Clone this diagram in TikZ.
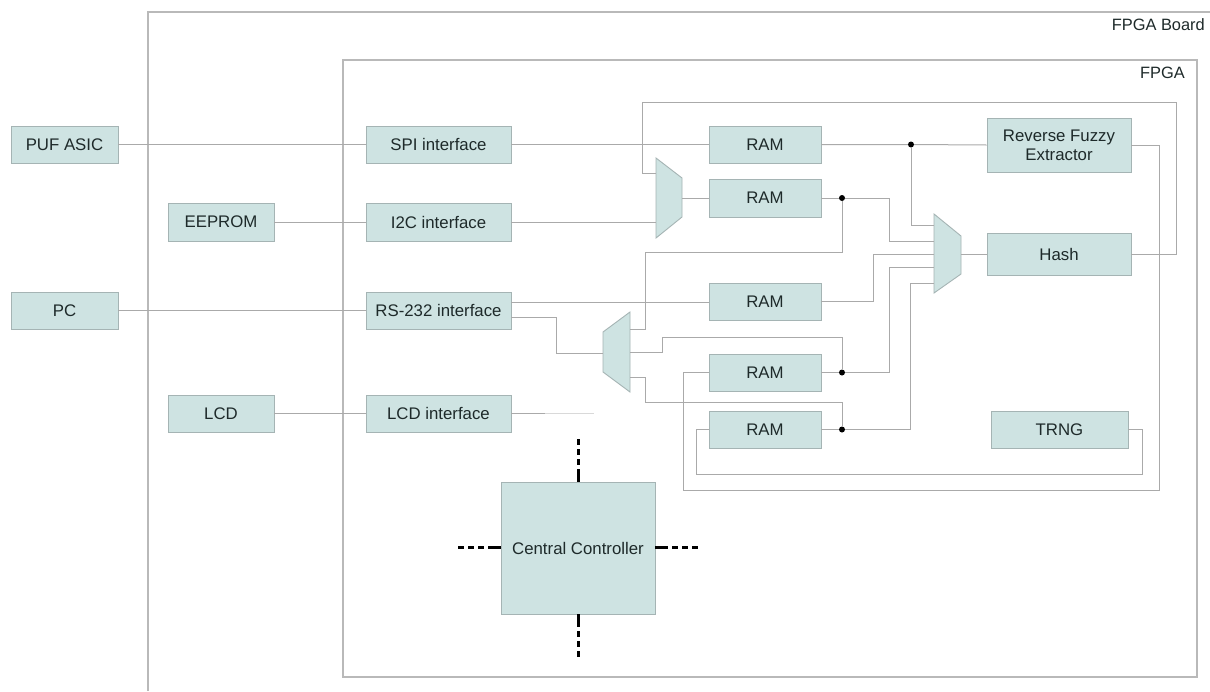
\documentclass[tikz,border=0pt]{standalone}
\usepackage{fontspec}
\setmainfont{Liberation Sans}
\usetikzlibrary{calc}
\definecolor{boxfill}{RGB}{206,227,226}
\definecolor{boxline}{RGB}{165,180,180}
\definecolor{wirec}{RGB}{170,170,170}
\definecolor{framec}{RGB}{185,185,185}
\definecolor{txt}{RGB}{30,42,42}
\tikzset{
  box/.style={draw=boxline, fill=boxfill, line width=0.9pt, text=txt,
    font=\fontsize{16.8}{19}\selectfont, inner sep=0pt, align=center},
  wire/.style={draw=wirec, line width=1pt},
  frame/.style={draw=framec, line width=1.1pt},
  mux/.style={draw=boxline, fill=boxfill, line width=0.9pt},
  junction/.style={circle, fill=black, inner sep=0pt, minimum size=6pt},
  ctl/.style={draw=black, line width=3pt,
    dash pattern=on 13pt off 4pt on 6pt off 4pt on 6pt off 4pt on 6pt off 10pt},
  lbl/.style={text=txt, font=\fontsize{16.4}{18}\selectfont, inner sep=0pt}
}
\begin{document}
\begin{tikzpicture}[x=1pt,y=-1pt]
\useasboundingbox (0,0) rectangle (1210,691);
\fill[white] (0,0) rectangle (1210,691);

% frames
\draw[frame] (148,691) -- (148,12) -- (1210,12);
\node[lbl, anchor=east] (boardlbl) at (1205,25) {FPGA Board};
\draw[frame] (343,60) rectangle (1197,677);
\node[lbl, anchor=east] (fpgalbl) at (1185,73) {FPGA};

% boxes
\node[box, minimum width=107pt, minimum height=37pt] (puf) at (64.5,144.5) {PUF ASIC};
\node[box, minimum width=106pt, minimum height=38pt] (eeprom) at (221,222) {EEPROM};
\node[box, minimum width=107pt, minimum height=37pt] (pc) at (64.5,310.5) {PC};
\node[box, minimum width=106pt, minimum height=37pt] (lcd) at (221,413.5) {LCD};

\node[box, minimum width=145pt, minimum height=37pt] (spi) at (438.5,144.5) {SPI interface};
\node[box, minimum width=145pt, minimum height=38pt] (i2c) at (438.5,222) {I2C interface};
\node[box, minimum width=145pt, minimum height=37pt] (rs) at (438.5,310.5) {RS-232 interface};
\node[box, minimum width=145pt, minimum height=37pt] (lcdif) at (438.5,413.5) {LCD interface};

\node[box, minimum width=112pt, minimum height=37pt] (ram1) at (765,144.5) {RAM};
\node[box, minimum width=112pt, minimum height=38pt] (ram2) at (765,198) {RAM};
\node[box, minimum width=112pt, minimum height=37pt] (ram3) at (765,301.5) {RAM};
\node[box, minimum width=112pt, minimum height=37pt] (ram4) at (765,372.5) {RAM};
\node[box, minimum width=112pt, minimum height=37pt] (ram5) at (765,429.5) {RAM};

\node[box, minimum width=144pt, minimum height=54pt] (rfe) at (1059,145) {Reverse Fuzzy\\Extractor};
\node[box, minimum width=144pt, minimum height=42pt] (hash) at (1059,254) {Hash};
\node[box, minimum width=137pt, minimum height=37pt] (trng) at (1059.5,429.5) {TRNG};

\node[box, minimum width=154pt, minimum height=132pt] (cc) at (578,548) {Central Controller};

% multiplexers
\draw[mux] (656,158) -- (682,178) -- (682,217) -- (656,238) -- cycle;
\coordinate (m1a) at (656,173);
\coordinate (m1b) at (656,222);
\coordinate (m1o) at (682,198);

\draw[mux] (603,332) -- (630,312) -- (630,392) -- (603,372) -- cycle;
\coordinate (m2i) at (603,353);
\coordinate (m2o1) at (630,329);
\coordinate (m2o2) at (630,352);
\coordinate (m2o3) at (630,377);

\draw[mux] (934,214) -- (961,236) -- (961,274) -- (934,293) -- cycle;
\coordinate (m3i1) at (934,225);
\coordinate (m3i2) at (934,241);
\coordinate (m3i3) at (934,254);
\coordinate (m3i4) at (934,267);
\coordinate (m3i5) at (934,283);
\coordinate (m3o) at (961,254);

% junctions
\node[junction] (d1) at (911,144.5) {};
\node[junction] (d2) at (842,198) {};
\node[junction] (d3) at (842,372.5) {};
\node[junction] (d4) at (842,429.5) {};

% external connections
\draw[wire] (puf.east) -- (spi.west);
\draw[wire] (eeprom.east) -- (i2c.west);
\draw[wire] (pc.east) -- (rs.west);
\draw[wire] (lcd.east) -- (lcdif.west);
\coordinate (lcdmid) at (545,413.5);
\coordinate (lcdend) at (594,413.5);
\draw[wire] (lcdif.east) -- (lcdmid);
\draw[draw=wirec!45, line width=1pt] (lcdmid) -- (lcdend);

% interface to RAM / mux
\draw[wire] (spi.east) -- (ram1.west);
\draw[wire] (i2c.east) -- (m1b);
\draw[wire] (m1o) -- (ram2.west);
\draw[wire] ($(rs.east)+(0,-8.5)$) -- (ram3.west |- {$(rs.east)+(0,-8.5)$});
\draw[wire] ($(rs.east)+(0,6.5)$) -- (556,317) -- (556,353) -- (m2i);

% RAM outputs to output mux
\draw[wire] (ram1.east) -- (d1) -- (rfe.west);
\draw[wire] (d1) -- (911,225) -- (m3i1);
\draw[wire] (ram2.east) -- (d2) -- (889,198) -- (889,241) -- (m3i2);
\draw[wire] (ram3.east) -- (873,301.5) -- (873,254) -- (m3i3);
\draw[wire] (ram4.east) -- (d3) -- (889,372.5) -- (889,267) -- (m3i4);
\draw[wire] (ram5.east) -- (d4) -- (910,429.5) -- (910,283) -- (m3i5);
\draw[wire] (m3o) -- (hash.west);

% demux outputs
\draw[wire] (d2) -- (842,252) -- (645,252) -- (645,329) -- (m2o1);
\draw[wire] (m2o2) -- (662,352) -- (662,337) -- (842,337) -- (d3);
\draw[wire] (m2o3) -- (645,377) -- (645,402) -- (842,402) -- (d4);

% feedback loops
\draw[wire] (hash.east) -- (1176,254) -- (1176,102) -- (642,102) -- (642,173) -- (m1a);
\draw[wire] (rfe.east) -- (1159,145) -- (1159,490) -- (683,490) -- (683,372.5) -- (ram4.west);
\draw[wire] (trng.east) -- (1142,429.5) -- (1142,474) -- (696,474) -- (696,429.5) -- (ram5.west);

% controller buses
\coordinate (cctop) at (578,437);
\coordinate (ccbot) at (578,659);
\coordinate (ccleft) at (456,547);
\coordinate (ccright) at (702,547);
\draw[ctl] (cc.north) -- (cctop);
\draw[ctl] (cc.south) -- (ccbot);
\draw[ctl] (cc.west |- ccleft) -- (ccleft);
\draw[ctl] (cc.east |- ccright) -- (ccright);
\end{tikzpicture}
\end{document}
